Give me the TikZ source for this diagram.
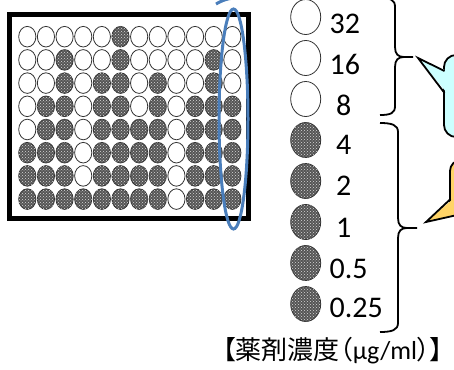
\documentclass[tikz,border=0pt]{standalone}
\usepackage{fontspec}
\setmainfont{Carlito}
\newfontfamily\jpfont[RawFeature=+palt]{Noto Sans CJK JP}
\usetikzlibrary{patterns,shapes.geometric}
\definecolor{wellgray}{HTML}{555555}
\definecolor{ovalblue}{HTML}{4A7EBB}
\definecolor{cyanfill}{HTML}{CCFFFF}
\definecolor{orangefill}{HTML}{FFD467}
\tikzset{
  whitewell/.style={draw=black!80, line width=0.8pt, fill=white},
  graywell/.style={draw=black!80, line width=0.8pt, fill=wellgray,
    postaction={pattern=crosshatch dots, pattern color=white!85!black}},
  legwhite/.style={ellipse, draw=black!80, line width=0.8pt, fill=white, inner sep=0pt,
    minimum width=30pt, minimum height=35pt},
  leggray/.style={legwhite, fill=wellgray,
    postaction={pattern=crosshatch dots, pattern color=white!85!black}},
  lab/.style={anchor=base west, inner sep=0pt, font=\fontsize{30}{30}\selectfont},
  bracestyle/.style={draw=black, line width=1.8pt},
  callout/.style={draw=black, line width=1.8pt}
}
\begin{document}
\begin{tikzpicture}[x=1pt,y=-1pt]
\useasboundingbox (0,0) rectangle (454,369);
\clip (0,0) rectangle (454,369);
% plate
\draw[line width=5pt, fill=white] (9,15) rectangle (248,218);
\foreach \row [count=\r] in {
  {0,0,0,0,0,1,0,0,0,0,0,0},
  {0,0,1,0,0,1,0,0,0,0,1,0},
  {0,0,1,0,1,1,0,1,0,0,1,0},
  {0,1,1,0,1,1,0,1,0,1,1,1},
  {0,1,1,0,1,1,1,1,0,1,1,1},
  {1,1,1,0,1,1,1,1,0,1,1,1},
  {1,1,1,0,1,1,1,1,0,1,1,1},
  {1,1,1,1,1,1,1,1,0,1,1,1}} {
  \foreach \v [count=\c] in \row {
    \pgfmathsetmacro\xx{27.3+(\c-1)*18.64}
    \pgfmathsetmacro\yy{36.7+(\r-1)*23.2}
    \ifnum\v=1
      \path[graywell] (\xx,\yy) ellipse [x radius=8.6pt, y radius=10.3pt];
    \else
      \path[whitewell] (\xx,\yy) ellipse [x radius=8.6pt, y radius=10.3pt];
    \fi
  }
}
% blue oval
\draw[ovalblue, line width=3pt] (233.5,119) ellipse [x radius=14.5pt, y radius=110pt];
\draw[ovalblue, line width=3pt] (216,4) .. controls (221,1) and (226,-1) .. (233,-2);
% legend
\node[legwhite] (c32) at (305.7,17) {};
\node[legwhite] (c16) at (305.7,58) {};
\node[legwhite] (c8) at (305.7,99) {};
\node[leggray] (c4) at (305.7,140) {};
\node[leggray] (c2) at (305.7,181) {};
\node[leggray] (c1) at (305.7,222) {};
\node[leggray] (c05) at (305.7,263) {};
\node[leggray] (c025) at (305.7,304) {};
\node[lab] (l32) at (329.5,34) {32};
\node[lab] (l16) at (329.5,74) {16};
\node[lab] (l8) at (336,115) {8};
\node[lab] (l4) at (336,154) {4};
\node[lab] (l2) at (336,195) {2};
\node[lab] (l1) at (336,237) {1};
\node[lab] (l05) at (329.5,278) {0.5};
\node[lab] (l025) at (329.5,317) {0.25};
% braces
\draw[bracestyle] (380,-2) .. controls (391,-2) and (395,0) .. (395,7) -- (395,47)
  .. controls (395,54) and (398,57) .. (404,57) -- (413,57);
\draw[bracestyle] (404,57) .. controls (398,57) and (395,60) .. (395,67) -- (395,106)
  .. controls (395,113) and (391,115) .. (380,115);
\draw[bracestyle] (380,123) .. controls (392,123) and (398,125) .. (398,132) -- (398,218)
  .. controls (398,225) and (401,228) .. (407,228) -- (417,228);
\draw[bracestyle] (407,228) .. controls (401,228) and (398,231) .. (398,238) -- (398,323)
  .. controls (398,330) and (392,332) .. (380,332);
% cyan callout
\draw[callout, fill=cyanfill, rounded corners=12pt] (444,55) rectangle (500,137);
\fill[cyanfill] (418,58) -- (447,71) -- (447,93) -- cycle;
\draw[callout, line join=miter] (444.5,71) -- (418,58) -- (444.5,93);
% orange callout
\draw[callout, fill=orangefill, rounded corners=11pt] (450,160) rectangle (500,212);
\fill[orangefill] (426,222) -- (453,199) -- (475,199) -- (475,211) -- cycle;
\draw[callout, line join=miter] (450.5,199) -- (426,222) -- (475,211);
% caption
\node[inner sep=0pt, font=\jpfont\fontsize{26}{26}\selectfont] (cap) at (333,351)
  {【薬剤濃度（{\rmfamily μg/ml}）】};
\end{tikzpicture}
\end{document}
